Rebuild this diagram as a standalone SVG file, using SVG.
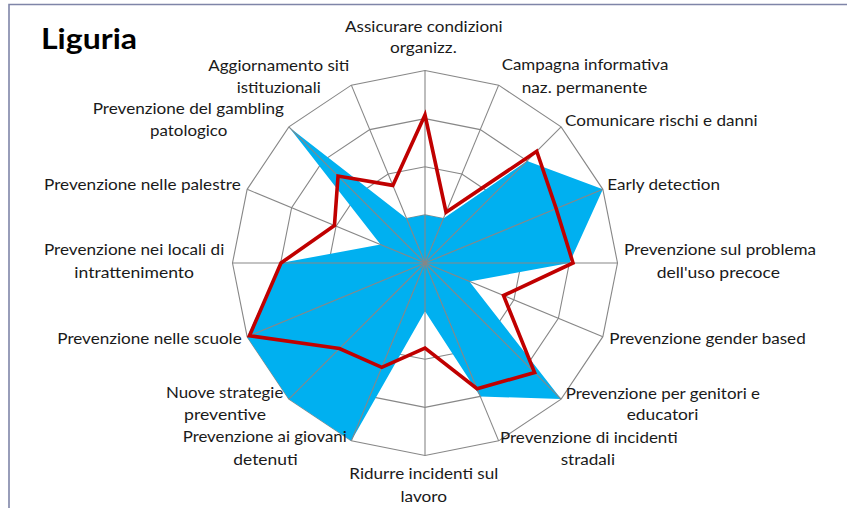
<svg xmlns="http://www.w3.org/2000/svg" width="847" height="508" viewBox="0 0 847 508">
<style>
.lbl{font-family:Lato,"Liberation Sans",sans-serif;font-size:16px;fill:#1a1a1a}
.title{font-family:Lato,"Liberation Sans",sans-serif;font-size:28px;font-weight:bold;fill:#000}
.ring{fill:none;stroke:#878787;stroke-width:1.1}
.spoke{stroke:#878787;stroke-width:1.1}
</style>
<rect width="847" height="508" fill="#fff"/>
<path d="M9,508 V4.5 H847" fill="none" stroke="#7f85a8" stroke-width="1.6"/>
<text class="title" x="41" y="49" textLength="96" lengthAdjust="spacingAndGlyphs">Liguria</text>

<g id="grid-rings">
<polygon class="ring" points="425,70.5 498.67,85.15 561.12,126.88 602.85,189.33 617.5,263 602.85,336.67 561.12,399.12 498.67,440.85 425,455.5 351.33,440.85 288.88,399.12 247.15,336.67 232.5,263 247.15,189.33 288.88,126.88 351.33,85.15"/>
<polygon class="ring" points="425,118.63 480.25,129.62 527.09,160.91 558.38,207.75 569.38,263 558.38,318.25 527.09,365.09 480.25,396.38 425,407.38 369.75,396.38 322.91,365.09 291.62,318.25 280.63,263 291.62,207.75 322.91,160.91 369.75,129.62"/>
<polygon class="ring" points="425,166.75 461.83,174.08 493.06,194.94 513.92,226.17 521.25,263 513.92,299.83 493.06,331.06 461.83,351.92 425,359.25 388.17,351.92 356.94,331.06 336.08,299.83 328.75,263 336.08,226.17 356.94,194.94 388.17,174.08"/>
<polygon class="ring" points="425,214.88 443.42,218.54 459.03,228.97 469.46,244.58 473.13,263 469.46,281.42 459.03,297.03 443.42,307.46 425,311.13 406.58,307.46 390.97,297.03 380.54,281.42 376.88,263 380.54,244.58 390.97,228.97 406.58,218.54"/>
</g>

<g id="series-blue">
<polygon fill="#00b0f0" points="425,214.88 443.42,218.54 527.09,160.91 602.85,189.33 569.38,263 469.46,281.42 561.12,399.12 480.25,396.38 425,311.13 351.33,440.85 288.88,399.12 247.15,336.67 280.63,263 380.54,244.58 288.88,126.88 406.58,218.54"/>
</g>

<g id="grid-spokes">
<line class="spoke" x1="425" y1="263" x2="425" y2="70.5"/>
<line class="spoke" x1="425" y1="263" x2="498.67" y2="85.15"/>
<line class="spoke" x1="425" y1="263" x2="561.12" y2="126.88"/>
<line class="spoke" x1="425" y1="263" x2="602.85" y2="189.33"/>
<line class="spoke" x1="425" y1="263" x2="617.5" y2="263"/>
<line class="spoke" x1="425" y1="263" x2="602.85" y2="336.67"/>
<line class="spoke" x1="425" y1="263" x2="561.12" y2="399.12"/>
<line class="spoke" x1="425" y1="263" x2="498.67" y2="440.85"/>
<line class="spoke" x1="425" y1="263" x2="425" y2="455.5"/>
<line class="spoke" x1="425" y1="263" x2="351.33" y2="440.85"/>
<line class="spoke" x1="425" y1="263" x2="288.88" y2="399.12"/>
<line class="spoke" x1="425" y1="263" x2="247.15" y2="336.67"/>
<line class="spoke" x1="425" y1="263" x2="232.5" y2="263"/>
<line class="spoke" x1="425" y1="263" x2="247.15" y2="189.33"/>
<line class="spoke" x1="425" y1="263" x2="288.88" y2="126.88"/>
<line class="spoke" x1="425" y1="263" x2="351.33" y2="85.15"/>
</g>

<g id="series-red">
<polygon fill="none" stroke="#c00000" stroke-width="3.6" stroke-linejoin="miter" points="425,115 446.05,212.19 536.72,151.28 556.19,208.66 573,263 503.53,295.53 534.6,372.6 477.05,388.65 425,348 381.76,367.4 339.44,348.56 249.46,335.71 281,263 334.46,225.5 338.03,176.03 392.85,185.39"/>
</g>

<g id="labels">
<g id="lbl-0"><text class="lbl" x="345" y="31.7" textLength="157.7" lengthAdjust="spacingAndGlyphs">Assicurare condizioni</text><text class="lbl" x="390" y="53.3" textLength="66.7" lengthAdjust="spacingAndGlyphs">organizz.</text></g>
<g id="lbl-1"><text class="lbl" x="501.7" y="70" textLength="166.6" lengthAdjust="spacingAndGlyphs">Campagna informativa</text><text class="lbl" x="521.7" y="92.7" textLength="125.6" lengthAdjust="spacingAndGlyphs">naz. permanente</text></g>
<g id="lbl-2"><text class="lbl" x="565" y="125.7" textLength="192.7" lengthAdjust="spacingAndGlyphs">Comunicare rischi e danni</text></g>
<g id="lbl-3"><text class="lbl" x="607.3" y="190" textLength="112.7" lengthAdjust="spacingAndGlyphs">Early detection</text></g>
<g id="lbl-4"><text class="lbl" x="624" y="255" textLength="192" lengthAdjust="spacingAndGlyphs">Prevenzione sul problema</text><text class="lbl" x="656.7" y="277.7" textLength="123.3" lengthAdjust="spacingAndGlyphs">dell'uso precoce</text></g>
<g id="lbl-5"><text class="lbl" x="609.3" y="344" textLength="196.4" lengthAdjust="spacingAndGlyphs">Prevenzione gender based</text></g>
<g id="lbl-6"><text class="lbl" x="565.7" y="399.3" textLength="194.3" lengthAdjust="spacingAndGlyphs">Prevenzione per genitori e</text><text class="lbl" x="626.7" y="420" textLength="71.6" lengthAdjust="spacingAndGlyphs">educatori</text></g>
<g id="lbl-7"><text class="lbl" x="500" y="442.7" textLength="177.7" lengthAdjust="spacingAndGlyphs">Prevenzione di incidenti</text><text class="lbl" x="560.7" y="465" textLength="54.3" lengthAdjust="spacingAndGlyphs">stradali</text></g>
<g id="lbl-8"><text class="lbl" x="349.3" y="479.3" textLength="149" lengthAdjust="spacingAndGlyphs">Ridurre incidenti sul</text><text class="lbl" x="400.5" y="501.7" textLength="46.5" lengthAdjust="spacingAndGlyphs">lavoro</text></g>
<g id="lbl-9"><text class="lbl" x="182.7" y="441.7" textLength="164" lengthAdjust="spacingAndGlyphs">Prevenzione ai giovani</text><text class="lbl" x="233.3" y="465" textLength="64.4" lengthAdjust="spacingAndGlyphs">detenuti</text></g>
<g id="lbl-10"><text class="lbl" x="166" y="398.3" textLength="117.3" lengthAdjust="spacingAndGlyphs">Nuove strategie</text><text class="lbl" x="184" y="420" textLength="82" lengthAdjust="spacingAndGlyphs">preventive</text></g>
<g id="lbl-11"><text class="lbl" x="57.3" y="344" textLength="184.4" lengthAdjust="spacingAndGlyphs">Prevenzione nelle scuole</text></g>
<g id="lbl-12"><text class="lbl" x="44" y="255" textLength="180.3" lengthAdjust="spacingAndGlyphs">Prevenzione nei locali di</text><text class="lbl" x="74.3" y="277.7" textLength="119.7" lengthAdjust="spacingAndGlyphs">intrattenimento</text></g>
<g id="lbl-13"><text class="lbl" x="44" y="190" textLength="196.7" lengthAdjust="spacingAndGlyphs">Prevenzione nelle palestre</text></g>
<g id="lbl-14"><text class="lbl" x="92.7" y="114.3" textLength="191.3" lengthAdjust="spacingAndGlyphs">Prevenzione del gambling</text><text class="lbl" x="150" y="136" textLength="77.3" lengthAdjust="spacingAndGlyphs">patologico</text></g>
<g id="lbl-15"><text class="lbl" x="208.3" y="70.7" textLength="141" lengthAdjust="spacingAndGlyphs">Aggiornamento siti</text><text class="lbl" x="236.7" y="92.7" textLength="84" lengthAdjust="spacingAndGlyphs">istituzionali</text></g>
</g>
</svg>
